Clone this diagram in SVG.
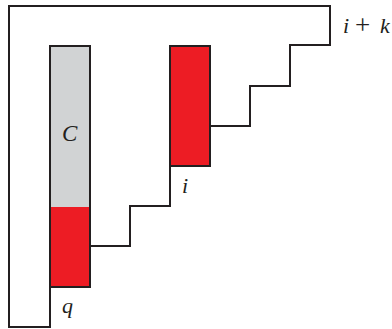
<svg xmlns="http://www.w3.org/2000/svg" width="392" height="329" viewBox="0 0 392 329">
<style>
.ln{fill:none;stroke:#231f20;stroke-width:2;stroke-linejoin:miter}
.red{fill:#ed1c24}
.gray{fill:#d1d3d4}
.m{font-family:"Liberation Serif",serif;font-style:italic;font-size:22px;fill:#231f20}
.u{font-style:normal;font-size:27px}
</style>
<rect width="392" height="329" fill="#fff"/>
<g id="barC">
<rect class="gray" x="50" y="46" width="40" height="161"/>
<rect class="red" x="50" y="207" width="40" height="80"/>
<polyline class="ln" points="50,287 50,46 90,46 90,287"/>
<text class="m" x="62" y="141" style="font-size:23px">C</text>
</g>
<g id="barI">
<rect class="red" x="170" y="46" width="40" height="120"/>
<polyline class="ln" points="170,166 170,46 210,46 210,126"/>
</g>
<g id="outline">
<polygon class="ln" points="9,6 330,6 330,45 290,45 290,86 250,86 250,126 210,126 210,166 170,166 170,206 130,206 130,246 90,246 90,287 50,287 50,327 9,327"/>
</g>
<g id="labels">
<text class="m" x="182" y="193">i</text>
<text class="m" x="62" y="313">q</text>
<text class="m" x="343" y="33">i<tspan class="u" x="355" y="34">+</tspan><tspan x="380" y="33">k</tspan></text>
</g>
</svg>
